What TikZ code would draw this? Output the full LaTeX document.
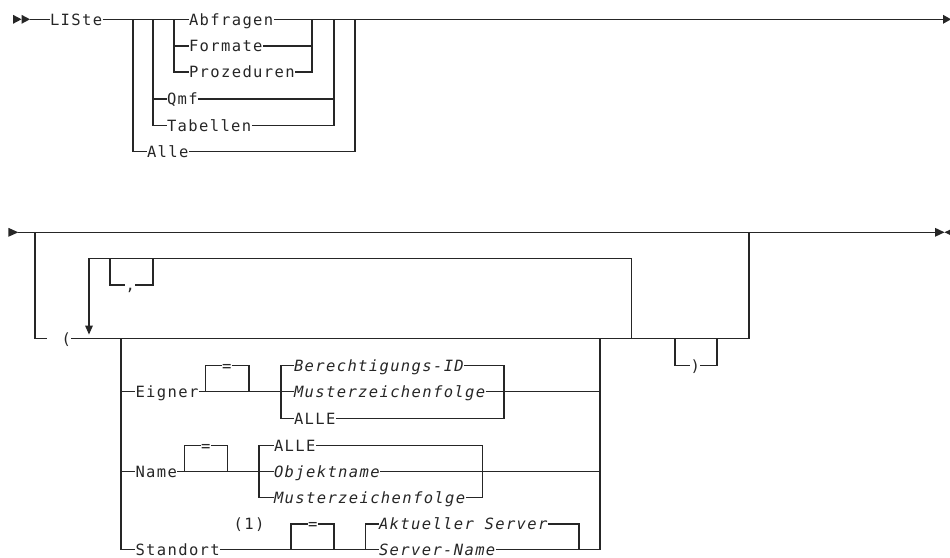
\documentclass[tikz,border=0pt]{standalone}
\usepackage{fontspec}
\newfontfamily\rrfont[LetterSpace=8.8,ItalicFont={DejaVu Sans Mono Oblique}]{DejaVu Sans Mono}
\begin{document}
\begin{tikzpicture}[x=1pt,y=-1pt,line width=1.05pt,color=black!85,
  lbl/.style={anchor=west,inner xsep=0pt,inner ysep=0pt,text height=11.6pt,text depth=0pt,
    font=\rrfont\fontsize{15.5}{17}\selectfont},
  ilbl/.style={lbl,font=\rrfont\itshape\fontsize{15.5}{17}\selectfont}]
\useasboundingbox (0,0) rectangle (950,557);

% ---------- first part ----------
\fill (13,14.8) -- (21.5,19.3) -- (13,23.8) -- cycle;
\fill (21.5,14.8) -- (30,19.3) -- (21.5,23.8) -- cycle;
\node[lbl] (liste) at (49.5,19.3) {LISte};
\node[lbl] (abf) at (188.5,19.3) {Abfragen};
\node[lbl] (form) at (188.5,46) {Formate};
\node[lbl] (proz) at (188.5,72) {Prozeduren};
\node[lbl] (qmf) at (166.5,99) {Qmf};
\node[lbl] (tab) at (166.5,125.5) {Tabellen};
\node[lbl] (alle) at (146.5,151.7) {Alle};
\coordinate (end1) at (943,19.3);
\draw (30,19.3) -- (liste.west);
\draw (liste.east) -- (abf.west);
\draw (abf.east) -- (end1);
\fill (943,14.8) -- (951,19.3) -- (943,23.8) -- cycle;
\draw (133,19.3) |- (alle.west);
\draw (alle.east) -| (355,19.3);
\draw (153,19.3) |- (tab.west);
\draw (tab.east) -| (334,19.3);
\draw (153,99) -- (qmf.west);
\draw (qmf.east) -- (334,99);
\draw (174,19.3) |- (proz.west);
\draw (proz.east) -| (312,19.3);
\draw (174,46) -- (form.west);
\draw (form.east) -- (312,46);

% ---------- second part ----------
\fill (8.3,227.8) -- (18.3,232.3) -- (8.3,236.8) -- cycle;
\coordinate (end2) at (935,232.3);
\draw (18.3,232.3) -- (end2);
\fill (935,227.8) -- (944.5,232.3) -- (935,236.8) -- cycle;
\fill (954,227.8) -- (944.5,232.3) -- (954,236.8) -- cycle;

\node[lbl] (lpar) at (61,338.5) {(};
\draw (35,232.3) |- (47,338.5);
\draw (lpar.east) -- (749,338.5) -- (749,232.3);

% repetition loop
\draw (631.7,338.5) |- (89,258.6) -- (89,326);
\fill (85,325.5) -- (93,325.5) -- (89,334.5) -- cycle;
\node[lbl] (comma) at (125,285) {,};
\draw (110,258.6) |- (comma.west);
\draw (comma.east) -| (153,258.6);

% optional )
\node[lbl] (rpar) at (690,365.5) {)};
\draw (675,338.5) |- (rpar.west);
\draw (rpar.east) -| (717,338.5);

% choice group
\node[lbl] (eig) at (135,391.7) {Eigner};
\node[lbl] (name) at (135,471.7) {Name};
\node[lbl] (stand) at (135,549.5) {Standort};
\draw (121,338.5) |- (stand.west);
\draw (121,391.7) -- (eig.west);
\draw (121,471.7) -- (name.west);
\draw (600,338.5) -- (600,549.5);

% Eigner
\node[lbl] (eq1) at (221.5,365.7) {=};
\node[ilbl] (ber) at (293.5,365.7) {Berechtigungs-ID};
\node[ilbl] (must1) at (293.5,391.7) {Musterzeichenfolge};
\node[lbl] (alle1) at (293.5,418.3) {ALLE};
\draw (eig.east) -- (must1.west);
\draw (205.7,391.7) |- (eq1.west);
\draw (eq1.east) -| (249,391.7);
\draw (281,391.7) |- (ber.west);
\draw (281,391.7) |- (alle1.west);
\draw (ber.east) -| (504,391.7);
\draw (alle1.east) -| (504,391.7);
\draw (must1.east) -- (600,391.7);

% Name
\node[lbl] (eq2) at (200.5,445.7) {=};
\node[lbl] (alle2) at (273.5,445.7) {ALLE};
\node[ilbl] (obj) at (273.5,471.7) {Objektname};
\node[ilbl] (must2) at (273.5,497.5) {Musterzeichenfolge};
\draw (name.east) -- (obj.west);
\draw (184.3,471.7) |- (eq2.west);
\draw (eq2.east) -| (227.3,471.7);
\draw (259,471.7) |- (alle2.west);
\draw (259,471.7) |- (must2.west);
\draw (alle2.east) -| (482.7,471.7);
\draw (must2.east) -| (482.7,471.7);
\draw (obj.east) -- (600,471.7);

% Standort
\node[lbl,anchor=center] (note) at (249,524) {(1)};
\node[lbl] (eq3) at (307.5,524) {=};
\node[ilbl] (akt) at (378.5,524) {Aktueller Server};
\node[ilbl] (srv) at (378.5,549.5) {Server-Name};
\draw (stand.east) -- (srv.west);
\draw (291,549.5) |- (eq3.west);
\draw (eq3.east) -| (334,549.5);
\draw (365.7,549.5) |- (akt.west);
\draw (akt.east) -| (579,549.5);
\draw (srv.east) -- (600,549.5);
\end{tikzpicture}
\end{document}
